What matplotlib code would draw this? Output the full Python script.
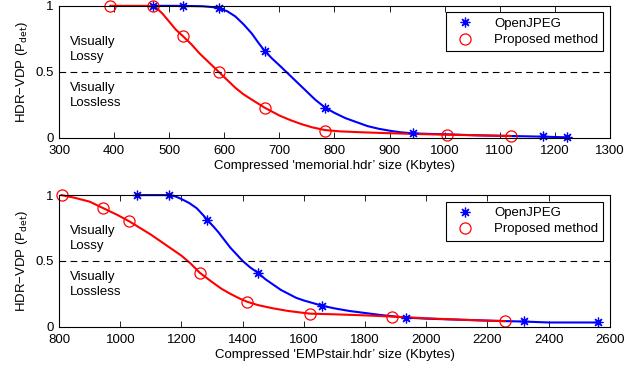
import matplotlib
matplotlib.use("Agg")
import matplotlib.pyplot as plt

plt.rcParams['font.family'] = ['Liberation Sans', 'DejaVu Sans']
plt.rcParams['font.size'] = 9.5

# memorial.hdr - markers
mem_jpeg_x = [470, 525, 590, 673, 783, 943, 1178, 1222]
mem_jpeg_y = [1.0, 1.0, 0.98, 0.66, 0.23, 0.035, 0.015, 0.005]
mem_prop_x = [393, 470, 525, 590, 673, 783, 1005, 1120]
mem_prop_y = [1.0, 1.0, 0.77, 0.5, 0.23, 0.05, 0.025, 0.015]
# memorial.hdr - fitted curves
mem_jpeg_cx = [470, 520, 560, 580, 590, 605, 620, 635, 650, 662, 673, 687, 700, 720, 735, 750, 765, 783, 800, 820, 840, 860, 880, 900, 920, 943, 970, 1000, 1060, 1120, 1178, 1222]
mem_jpeg_cy = [1.0, 1.0, 0.997, 0.99, 0.98, 0.96, 0.92, 0.86, 0.79, 0.72, 0.66, 0.6, 0.55, 0.47, 0.41, 0.35, 0.29, 0.23, 0.19, 0.15, 0.12, 0.09, 0.07, 0.055, 0.043, 0.035, 0.031, 0.028, 0.02, 0.015, 0.01, 0.005]
mem_prop_cx = [393, 460, 470, 478, 488, 500, 512, 525, 540, 555, 570, 590, 605, 620, 635, 650, 673, 700, 720, 740, 760, 783, 810, 850, 900, 950, 1005, 1060, 1120]
mem_prop_cy = [1.0, 1.0, 0.995, 0.98, 0.94, 0.88, 0.82, 0.77, 0.71, 0.64, 0.58, 0.5, 0.44, 0.38, 0.33, 0.29, 0.23, 0.17, 0.135, 0.105, 0.08, 0.06, 0.05, 0.043, 0.036, 0.03, 0.025, 0.02, 0.015]

# EMPstair.hdr - markers
emp_jpeg_x = [1055, 1160, 1285, 1450, 1660, 1935, 2320, 2560]
emp_jpeg_y = [1.0, 1.0, 0.81, 0.41, 0.16, 0.066, 0.043, 0.033]
emp_prop_x = [808, 945, 1030, 1260, 1415, 1620, 1887, 2257]
emp_prop_y = [1.0, 0.9, 0.8, 0.41, 0.19, 0.1, 0.078, 0.043]
# EMPstair.hdr - fitted curves
emp_jpeg_cx = [1055, 1160, 1180, 1200, 1225, 1250, 1270, 1285, 1305, 1320, 1340, 1360, 1380, 1400, 1425, 1450, 1475, 1500, 1525, 1550, 1575, 1600, 1630, 1660, 1700, 1750, 1800, 1850, 1900, 1935, 2000, 2100, 2200, 2320, 2400, 2560]
emp_jpeg_cy = [1.0, 1.0, 0.99, 0.97, 0.94, 0.9, 0.85, 0.81, 0.76, 0.72, 0.66, 0.6, 0.55, 0.5, 0.45, 0.41, 0.36, 0.32, 0.28, 0.25, 0.22, 0.2, 0.18, 0.16, 0.14, 0.12, 0.105, 0.09, 0.078, 0.07, 0.062, 0.055, 0.047, 0.04, 0.033, 0.033]
emp_prop_cx = [808, 850, 900, 945, 990, 1030, 1065, 1100, 1150, 1200, 1230, 1260, 1300, 1330, 1360, 1390, 1415, 1450, 1500, 1550, 1620, 1700, 1800, 1887, 2000, 2100, 2257]
emp_prop_cy = [1.0, 0.98, 0.95, 0.9, 0.85, 0.8, 0.75, 0.7, 0.62, 0.54, 0.48, 0.41, 0.34, 0.29, 0.25, 0.215, 0.19, 0.165, 0.14, 0.12, 0.1, 0.095, 0.087, 0.078, 0.065, 0.055, 0.043]

panels = [
    (mem_jpeg_x, mem_jpeg_y, mem_prop_x, mem_prop_y, mem_jpeg_cx, mem_jpeg_cy, mem_prop_cx, mem_prop_cy,
     (300, 1300), range(300, 1301, 100), "Compressed 'memorial.hdr\u2019 size (Kbytes)"),
    (emp_jpeg_x, emp_jpeg_y, emp_prop_x, emp_prop_y, emp_jpeg_cx, emp_jpeg_cy, emp_prop_cx, emp_prop_cy,
     (800, 2600), range(800, 2601, 200), "Compressed 'EMPstair.hdr\u2019 size (Kbytes)"),
]

fig = plt.figure(figsize=(6.42, 3.66), dpi=100)
rects = [[0.092, 0.623, 0.858, 0.361], [0.092, 0.107, 0.858, 0.36]]

for rect, p in zip(rects, panels):
    jx, jy, px, py, jcx, jcy, pcx, pcy, xlim, xt, xlab = p
    ax = fig.add_axes(rect)
    ax.plot(jcx, jcy, color='blue', lw=1.5, clip_on=False)
    ax.plot(pcx, pcy, color='red', lw=1.5, clip_on=False)
    ax.plot(jx, jy, ls='none', marker=(8, 2, 0), ms=7, mec='blue', mew=0.9, label='OpenJPEG', clip_on=False)
    ax.plot(px, py, ls='none', marker='o', ms=8, mfc='none', mec='red', mew=0.9, label='Proposed method', clip_on=False)
    ax.axhline(0.5, color='black', ls=(0, (6, 4)), lw=0.8)
    ax.set_xlim(*xlim)
    ax.set_ylim(0, 1)
    ax.set_xticks(list(xt))
    ax.set_yticks([0, 0.5, 1])
    ax.set_yticklabels(['0', '0.5', '1'])
    ax.tick_params(direction='in', top=True, right=True, length=4, width=0.6)
    ax.tick_params(axis='x', pad=5)
    ax.tick_params(axis='y', pad=4)
    for s in ax.spines.values():
        s.set_linewidth(0.8)
    ax.set_xlabel(xlab, labelpad=2)
    ax.set_ylabel('HDR\u2212VDP (P$_{\\mathrm{det}}$)', labelpad=4)
    ax.text(0.02, 0.565, 'Visually\nLossy', transform=ax.transAxes, ha='left', va='bottom', linespacing=1.35)
    ax.text(0.02, 0.425, 'Visually\nLossless', transform=ax.transAxes, ha='left', va='top', linespacing=1.35)
    leg = ax.legend(loc='upper right', fancybox=False, framealpha=1, edgecolor='black',
                    borderaxespad=0.5, handletextpad=1.2, borderpad=0.4, labelspacing=0.3)
    leg.get_frame().set_linewidth(0.8)

fig.savefig('out.png', dpi=100)
